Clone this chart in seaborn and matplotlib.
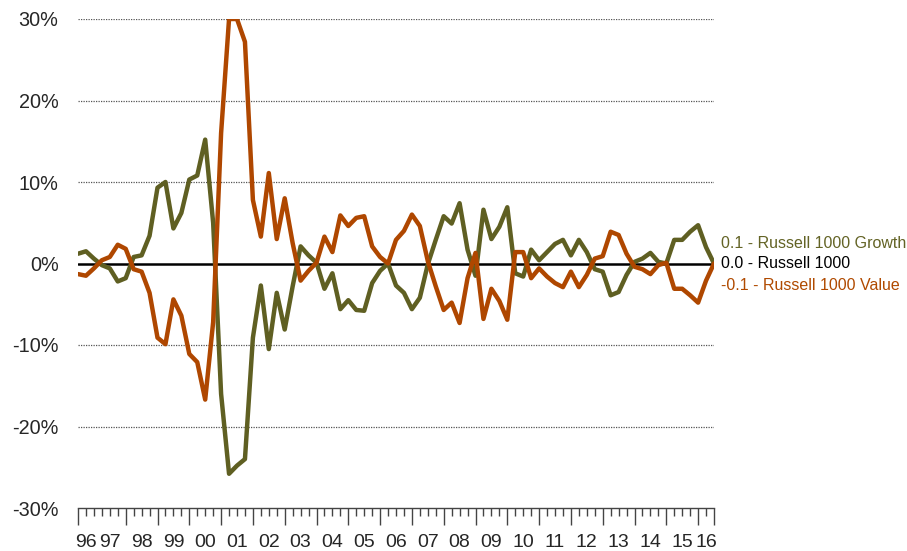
import numpy as np
import pandas as pd
import matplotlib
matplotlib.use('Agg')
import matplotlib.pyplot as plt
import seaborn as sns

sns.set_style('white')
plt.rcParams['font.family'] = ['Liberation Sans', 'DejaVu Sans']

# quarterly relative performance, mid-1996 .. mid-2016 (percent)
growth = [1.2, 1.5, 0.6, -0.2, -0.6, -2.2, -1.8, 0.8, 1.0, 3.4,
          9.3, 10.0, 4.3, 6.2, 10.3, 10.8, 15.2, 5.0, -16.0, -25.8,
          -24.8, -24.0, -9.1, -2.7, -10.5, -3.6, -8.1, -2.8, 2.1, 1.0,
          0.1, -3.1, -1.2, -5.6, -4.5, -5.7, -5.8, -2.4, -0.9, 0.0,
          -2.7, -3.6, -5.6, -4.2, -0.1, 2.9, 5.8, 4.9, 7.4, 1.7,
          -1.5, 6.6, 3.0, 4.5, 6.9, -1.2, -1.6, 1.7, 0.4, 1.4,
          2.4, 2.9, 1.0, 2.9, 1.4, -0.7, -1.0, -3.9, -3.5, -1.4,
          0.2, 0.6, 1.3, 0.2, 0.0, 2.9, 2.9, 3.9, 4.7, 2.0, 0.0]
value = [-1.3, -1.5, -0.6, 0.4, 0.8, 2.3, 1.8, -0.7, -1.0, -3.6,
         -9.1, -9.9, -4.4, -6.4, -11.1, -12.1, -16.7, -7.2, 16.0, 30.0,
         30.0, 27.2, 7.8, 3.3, 11.1, 3.0, 8.0, 2.5, -2.1, -0.9,
         0.1, 3.3, 1.4, 5.9, 4.6, 5.6, 5.8, 2.1, 0.8, 0.0,
         2.9, 4.0, 6.0, 4.6, 0.3, -2.8, -5.7, -4.8, -7.3, -1.8,
         1.3, -6.8, -3.1, -4.6, -6.9, 1.4, 1.4, -1.8, -0.6, -1.6,
         -2.4, -2.9, -1.0, -2.9, -1.4, 0.6, 0.9, 3.9, 3.5, 1.2,
         -0.4, -0.7, -1.3, -0.2, 0.1, -3.1, -3.1, -3.9, -4.8, -2.1, 0.0]
year_labels = ['96', '97', '98', '99', '00', '01', '02', '03', '04', '05', '06',
               '07', '08', '09', '10', '11', '12', '13', '14', '15', '16']
ytick_vals = [-30, -20, -10, 0, 10, 20, 30]
ytick_labels = ['-30%', '-20%', '-10%', '0%', '10%', '20%', '30%']
legend_items = [('0.1 - Russell 1000 Growth', 2.4, '#636325'),
                ('0.0 - Russell 1000', 0.0, '#000000'),
                ('-0.1 - Russell 1000 Value', -2.7, '#B04A00')]

GREEN = '#5F5F22'
ORANGE = '#AF4700'

q = np.arange(len(growth))
df = pd.DataFrame({'q': q, 'growth': growth, 'value': value})

fig = plt.figure(figsize=(9.07, 5.51), dpi=100)
ax = fig.add_axes([78 / 907, 1 - 508 / 551, (714 - 78) / 907, (508 - 19) / 551])

for yv in ytick_vals:
    if yv == 0 or yv == -30:
        continue
    ax.axhline(yv, color='#555555', lw=0.9, ls=(0, (1, 1)), zorder=1)
ax.axhline(0, color='black', lw=1.8, zorder=2)

sns.lineplot(data=df, x='q', y='growth', color=GREEN, lw=3.2, ax=ax, zorder=3)
sns.lineplot(data=df, x='q', y='value', color=ORANGE, lw=3.2, ax=ax, zorder=4)

ax.set_xlim(0, len(q) - 1)
ax.set_ylim(-30, 30)
ax.set_xlabel('')
ax.set_ylabel('')

# tick marks: long at year boundaries, short each quarter
bounds = [0] + list(range(6, len(q), 4)) + [len(q) - 1]
ax.set_xticks(bounds)
ax.set_xticklabels([])
ax.set_xticks(q, minor=True)
ax.tick_params(axis='x', which='major', direction='out', length=12, width=1,
               color='#444444', bottom=True)
ax.tick_params(axis='x', which='minor', direction='out', length=5.5, width=1,
               color='#444444', bottom=True)

# year labels centred inside each year
centers = [1, 4] + [8 + 4 * k for k in range(len(year_labels) - 3)] + [len(q) - 2]
sec = ax.secondary_xaxis('bottom')
sec.set_xticks(centers, year_labels)
sec.tick_params(length=0, pad=19, labelsize=14)
sec.spines['bottom'].set_visible(False)

ax.set_yticks(ytick_vals, ytick_labels)
ax.tick_params(axis='y', length=0, pad=14, labelsize=14.3)

for s in ['top', 'right', 'left']:
    ax.spines[s].set_visible(False)
ax.spines['bottom'].set_color('#444444')
ax.spines['bottom'].set_linewidth(1)

for txt, yv, col in legend_items:
    ax.text(1.011, yv, txt, color=col, fontsize=11.5, va='center', ha='left',
            transform=ax.get_yaxis_transform(), clip_on=False)

fig.savefig('out.png', dpi=100)
